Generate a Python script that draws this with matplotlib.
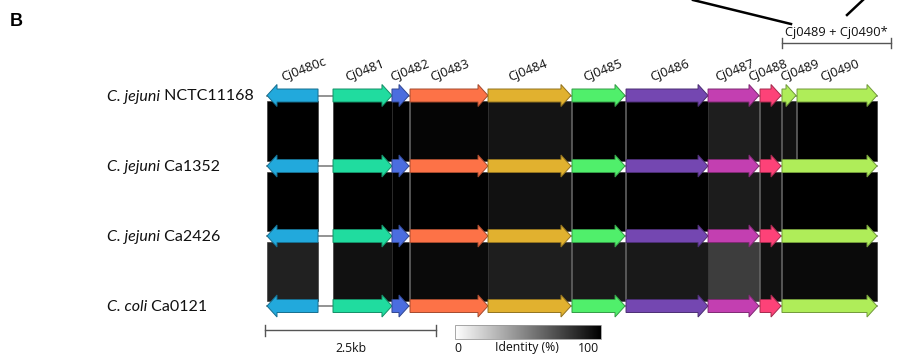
import numpy as np
import matplotlib
matplotlib.use('Agg')
import matplotlib.pyplot as plt
from matplotlib.patches import Polygon, Rectangle
from matplotlib.colors import to_rgb

# gene coordinates (bp, relative to start of Cj0480c)
gene_names = ['Cj0480c', 'Cj0481', 'Cj0482', 'Cj0483', 'Cj0484', 'Cj0485',
              'Cj0486', 'Cj0487', 'Cj0488', 'Cj0489', 'Cj0490']
gene_start = [0, 965, 1827, 2091, 3231, 4459, 5249, 6448, 7208, 7529, 7749]
gene_end = [746, 1827, 2076, 3231, 4444, 5234, 6448, 7193, 7515, 7734, 8918]
gene_strand = [-1, 1, 1, 1, 1, 1, 1, 1, 1, 1, 1]
gene_colors = ['#22a9dc', '#20dc9f', '#4b6ddf', '#fd7247', '#e1b12f', '#50ef6b',
               '#7447b1', '#c33fb1', '#fd4278', '#afed59', '#afed59']

strains = [('C. jejuni', 'NCTC11168'), ('C. jejuni', 'Ca1352'),
           ('C. jejuni', 'Ca2426'), ('C. coli', 'Ca0121')]

# identity (%) of the links between consecutive genomes
# genes 0..8 + Cj0489 (row 1 only) / fused Cj0489+Cj0490
identity_12 = [100, 100, 100, 98, 92, 100, 100, 88, 93, 93, 100]
identity_23 = [100, 100, 100, 100, 93, 100, 100, 89, 94, 100]
identity_34 = [87, 93, 100, 96, 88, 90, 90, 76, 93, 96]

scale_bp = 2500

# ---- layout (pixels) ----
W, H = 897, 357
S = 2500 / 171.0          # bp per pixel
X0 = 267                  # pixel of bp 0
row_y = [95.5, 166, 236, 306]
bh, hh, hl = 6.5, 11, 10 * S
TXT = '#111111'


def px(x):
    return (x - X0) * S


fig = plt.figure(figsize=(W / 100, H / 100), dpi=100)
ax = fig.add_axes([0, 0, 1, 1])
ax.set_xlim(px(0), px(W))
ax.set_ylim(H, 0)
ax.axis('off')
cmap = plt.get_cmap('gray_r')


def draw_gene(s, e, y, strand, color):
    if strand > 0:
        pts = [(s, y - bh), (e - hl, y - bh), (e - hl, y - hh), (e, y),
               (e - hl, y + hh), (e - hl, y + bh), (s, y + bh)]
    else:
        pts = [(e, y - bh), (s + hl, y - bh), (s + hl, y - hh), (s, y),
               (s + hl, y + hh), (s + hl, y + bh), (e, y + bh)]
    ec = tuple(np.array(to_rgb(color)) * 0.65)
    ax.add_patch(Polygon(pts, closed=True, fc=color, ec=ec, lw=0.7, zorder=3))


def draw_link(s1, e1, s2, e2, y1, y2, ident):
    pts = [(s1, y1 + bh - 1), (e1, y1 + bh - 1), (e2, y2 - bh + 1), (s2, y2 - bh + 1)]
    ax.add_patch(Polygon(pts, closed=True, fc=cmap(ident / 100), ec='#2c2c2c',
                         lw=0.4, zorder=1))


# genes per row: row 1 has separate Cj0489 / Cj0490, others fused
row1 = list(zip(gene_start, gene_end, gene_strand, gene_colors))
fused = row1[:9] + [(gene_start[9], gene_end[10], 1, gene_colors[10])]
rows = [row1, fused, fused, fused]

for r, genes in enumerate(rows):
    y = row_y[r]
    ax.plot([gene_start[0], gene_end[-1]], [y, y], color='#808080', lw=1.2, zorder=2)
    for s, e, st, c in genes:
        draw_gene(s, e, y, st, c)

links = [identity_12, identity_23, identity_34]
for r, ident in enumerate(links):
    g1, g2 = rows[r], rows[r + 1]
    if r == 0:
        pairs = [(g1[i], g2[i]) for i in range(9)]
        f = g2[9]
        pairs.append((g1[9], (f[0], g1[9][1], 1, f[3])))
        pairs.append((g1[10], (g1[10][0], f[1], 1, f[3])))
    else:
        pairs = list(zip(g1, g2))
    for (a, b), idv in zip(pairs, ident):
        draw_link(a[0], a[1], b[0], b[1], row_y[r], row_y[r + 1], idv)

# gene labels
label_dx = [-9.5, -15.5, -8.5, -17, -19.5, -13.5, -15, -16.5, -20.5, -7, -15]
for name, s, e, dx in zip(gene_names, gene_start, gene_end, label_dx):
    cx = (s + e) / 2 + dx * S
    ax.text(cx, 81, name, rotation=21, rotation_mode='anchor', ha='left',
            va='baseline', fontsize=9.3, family='Open Sans', color=TXT)

# strain labels
for (sp, st), y in zip(strains, row_y):
    t = ax.text(px(107), y + 1, sp, style='italic', ha='left', va='center',
                fontsize=11.5, family='Lato', color=TXT)
    ax.annotate(' ' + st, xy=(1, 0), xycoords=t, ha='left', va='bottom',
                fontsize=11.5, family='Lato', color=TXT)

# panel letter
ax.text(px(10), 21, 'B', fontsize=13, fontweight='bold', family='Liberation Sans',
        ha='left', va='center')

# zoom lines at the top and bracket for fused gene
ax.plot([px(693), px(791)], [0, 24], color='black', lw=1.8)
ax.plot([px(847), px(864)], [15, -1], color='black', lw=1.8)
bx0, bx1 = gene_start[9], px(891)
ax.plot([bx0, bx1], [43, 43], color='#555555', lw=1)
for bx in (bx0, bx1):
    ax.plot([bx, bx], [38, 48], color='#555555', lw=1)
ax.text((bx0 + bx1) / 2, 32.5, 'Cj0489 + Cj0490*', ha='center', va='center',
        fontsize=9.3, family='Open Sans', color=TXT)

# scale bar
sb0 = px(265)
ax.plot([sb0, sb0 + scale_bp], [330, 330], color='#555555', lw=1)
for bx in (sb0, sb0 + scale_bp):
    ax.plot([bx, bx], [325, 336], color='#555555', lw=1)
ax.text(sb0 + scale_bp / 2, 348, '%.1fkb' % (scale_bp / 1000), ha='center',
        va='center', fontsize=8.8, family='Open Sans', color=TXT)

# identity colour bar
grad = np.linspace(0, 100, 256).reshape(1, -1)
ax.imshow(grad, cmap=cmap, vmin=0, vmax=100, aspect='auto',
          extent=(px(455), px(601), 339, 325), zorder=2)
ax.add_patch(Rectangle((px(455), 325), px(601) - px(455), 14, fill=False,
                       ec='#999999', lw=0.6, zorder=3))
for xx, s in [(458, '0'), (527, 'Identity (%)'), (588, '100')]:
    ax.text(px(xx), 348, s, ha='center', va='center', fontsize=8.8,
            family='Open Sans', color=TXT)

ax.set_xlim(px(0), px(W))
ax.set_ylim(H, 0)
fig.savefig('out.png', dpi=100)
